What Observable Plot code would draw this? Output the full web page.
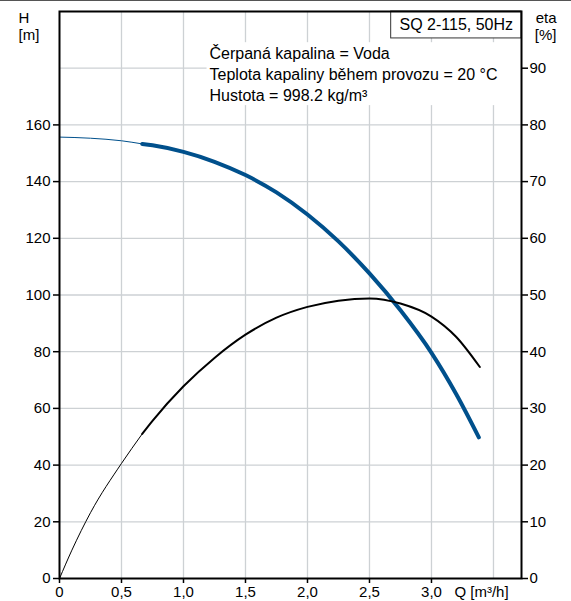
<!DOCTYPE html>
<html>
<head>
<meta charset="utf-8">
<script src="https://cdn.jsdelivr.net/npm/d3@7"></script>
<script src="https://cdn.jsdelivr.net/npm/@observablehq/plot@0.6"></script>
<style>
  html, body { margin: 0; padding: 0; background: #fff; }
  #chart { width: 571px; border-top: 1px solid #555; }
  svg { display: block; }
</style>
</head>
<body>
<div id="chart"></div>
<script>
// Pump curve data
const qH   = [0, 0.25, 0.5, 0.667, 0.75, 1.0, 1.25, 1.5, 1.75, 2.0, 2.25, 2.5, 2.75, 3.0, 3.2, 3.382];
const hVal = [155.7, 155.3, 154.4, 153.3, 152.8, 150.5, 147.0, 142.3, 136.2, 128.4, 118.9, 107.6, 94.6, 79.6, 65.0, 49.8];
const qEta = [0, 0.1, 0.25, 0.5, 0.667, 0.75, 1.0, 1.25, 1.5, 1.75, 2.0, 2.25, 2.5, 2.75, 3.0, 3.2, 3.39];
const etaVal = [0, 5.0, 11.6, 20.3, 25.5, 27.8, 33.9, 38.9, 43.0, 46.0, 47.9, 49.0, 49.4, 48.5, 46.2, 42.6, 37.3];
const qThickStart = 0.667;

const xTicks = [0, 0.5, 1.0, 1.5, 2.0, 2.5, 3.0];
const gridQ = [0.5, 1.0, 1.5, 2.0, 2.5, 3.0, 3.5];
const gridH = [20, 40, 60, 80, 100, 120, 140, 160, 180];
const hTicks = [0, 20, 40, 60, 80, 100, 120, 140, 160];
const etaTicks = [0, 10, 20, 30, 40, 50, 60, 70, 80, 90];
const infoLines = ["Čerpaná kapalina = Voda", "Teplota kapaliny během provozu = 20 °C", "Hustota = 998.2 kg/m³"];
const legendLabel = "SQ 2-115, 50Hz";
const xLabel = "Q [m³/h]";

const hData = qH.map((q, i) => ({q, v: hVal[i]}));
const etaData = qEta.map((q, i) => ({q, v: etaVal[i] * 2})); // eta on H scale (0..100% -> 0..200 m)
const infoData = infoLines.map((t, i) => ({t, q: 1.21, h: 185.1 - i * 7.4}));

const blue = "#00508c";
const fmtQ = d => d === 0 ? "0" : d.toFixed(1).replace(".", ",");

const chart = Plot.plot({
  width: 571,
  height: 600,
  marginLeft: 59,
  marginRight: 50,
  marginTop: 10,
  marginBottom: 23,
  style: {fontFamily: "Liberation Sans, Arial, sans-serif", fontSize: "15px", color: "#000", background: "#fff"},
  x: {domain: [0, 3.726]},
  y: {domain: [0, 200]},
  marks: [
    Plot.gridX(gridQ, {stroke: "#cdd1d4", strokeOpacity: 1, strokeWidth: 1.3}),
    Plot.gridY(gridH, {stroke: "#cdd1d4", strokeOpacity: 1, strokeWidth: 1.3}),
    // white background behind the info text
    Plot.rect([{x1: 1.19, x2: 3.726, y1: 166.8, y2: 189}], {x1: "x1", x2: "x2", y1: "y1", y2: "y2", fill: "#fff"}),
    // legend box
    Plot.rect([{x1: 2.675, x2: 3.726, y1: 190.5, y2: 200}], {x1: "x1", x2: "x2", y1: "y1", y2: "y2", fill: "#fff", stroke: "#333", strokeWidth: 1}),
    Plot.text([legendLabel], {x: 3.2, y: 195.3, text: d => d, fontSize: 16, lineAnchor: "middle", fill: "#000"}),
    Plot.text(infoData, {x: "q", y: "h", text: "t", textAnchor: "start", lineAnchor: "middle", fontSize: 16, fill: "#000"}),
    // H curve
    Plot.line(hData.filter(d => d.q <= qThickStart), {x: "q", y: "v", stroke: blue, strokeWidth: 1, curve: "monotone-x"}),
    Plot.line(hData.filter(d => d.q >= qThickStart), {x: "q", y: "v", stroke: blue, strokeWidth: 4, curve: "monotone-x"}),
    // eta curve
    Plot.line(etaData.filter(d => d.q <= qThickStart), {x: "q", y: "v", stroke: "#000", strokeWidth: 1, curve: "monotone-x"}),
    Plot.line(etaData.filter(d => d.q >= qThickStart), {x: "q", y: "v", stroke: "#000", strokeWidth: 2, curve: "monotone-x"}),
    Plot.frame({stroke: "#000", strokeWidth: 2}),
    Plot.axisX(xTicks, {tickFormat: fmtQ, tickSize: 5, tickPadding: 3, stroke: "#000", strokeWidth: 1.5, label: null}),
    Plot.text([xLabel], {x: 3.5, y: 0, text: d => d, dx: -12, dy: 8, lineAnchor: "top", fontSize: 15, fill: "#000"}),
    Plot.axisY(hTicks, {anchor: "left", tickSize: 6, tickPadding: 3, stroke: "#000", strokeWidth: 1.5, label: null}),
    Plot.axisY(etaTicks.map(e => e * 2), {anchor: "right", tickFormat: d => String(d / 2), tickSize: 6, tickPadding: 2, stroke: "#000", strokeWidth: 1.5, label: null}),
    Plot.text(["H\n[m]"], {frameAnchor: "top-left", text: d => d, dx: -41, dy: 0, lineAnchor: "top", lineHeight: 1.1, fontSize: 15, fill: "#000"}),
    Plot.text(["eta\n[%]"], {frameAnchor: "top-right", text: d => d, dx: 35, dy: 0, lineAnchor: "top", lineHeight: 1.1, fontSize: 15, fill: "#000"})
  ]
});
document.getElementById("chart").appendChild(chart);
</script>
</body>
</html>
